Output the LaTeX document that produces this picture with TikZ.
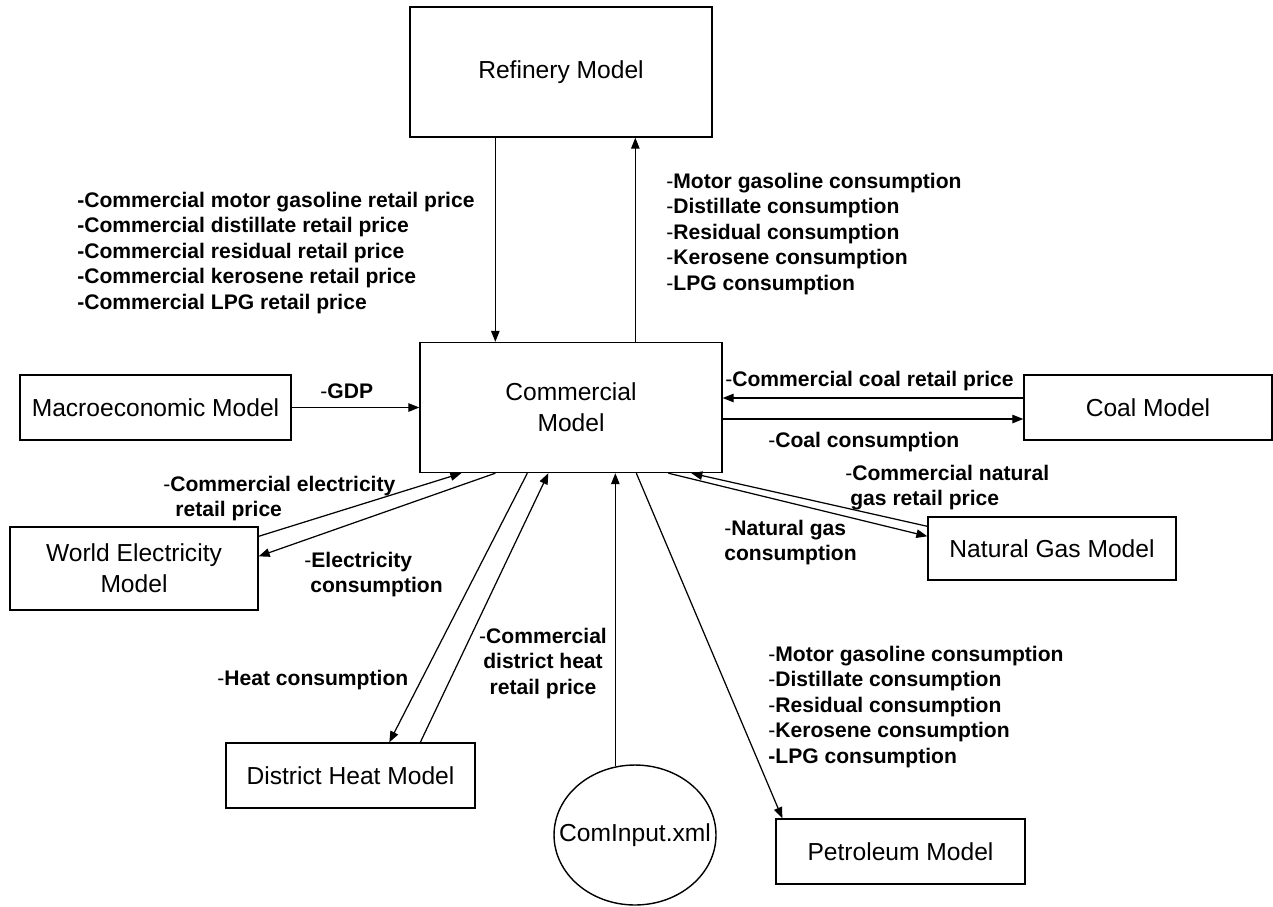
\documentclass[tikz,border=0pt]{standalone}
\usepackage{fontspec}
\setmainfont{Liberation Sans}
\usetikzlibrary{arrows.meta,calc,shapes.geometric}
\newcommand{\dsh}{\textmd{-}}
\tikzset{%
  model/.style={draw,line width=0.8pt,inner sep=0pt,align=center,font=\fontsize{14}{17.6}\selectfont},
  flow/.style={line width=0.7pt,-{Triangle[length=0.22cm,width=0.17cm]}},
  lbl/.style={inner sep=0pt,font=\fontsize{12}{14.5}\selectfont\bfseries}
}

\begin{document}
\begin{tikzpicture}[x=0.02cm,y=-0.02cm]
  \useasboundingbox (0,0) rectangle (1273,906);

  % models
  \node[model,minimum width=6.04cm,minimum height=2.6cm] (ref) at (561,72) {Refinery Model};
  \node[model,minimum width=6.04cm,minimum height=2.6cm] (com) at (571,407.5) {Commercial\\Model};
  \node[model,minimum width=5.42cm,minimum height=1.3cm] (macro) at (155.5,407.5) {Macroeconomic Model};
  \node[model,minimum width=4.96cm,minimum height=1.3cm] (coal) at (1148,407.5) {Coal Model};
  \node[model,minimum width=4.96cm,minimum height=1.26cm] (ng) at (1052,548.5) {Natural Gas Model};
  \node[model,minimum width=4.96cm,minimum height=1.66cm] (welec) at (134,568.5) {World Electricity\\Model};
  \node[model,minimum width=4.98cm,minimum height=1.3cm] (dheat) at (350.5,775.5) {District Heat Model};
  \node[model,minimum width=4.98cm,minimum height=1.3cm] (pet) at (900.5,851.5) {Petroleum Model};
  \node[model,ellipse,minimum width=3.24cm,minimum height=2.8cm] (cinput) at (635,835) {\makebox[0pt]{ComInput.xml}};

  % flows
  \draw[flow] ($(ref.south west)+(86,0)$) -- ($(com.north west)+(76,0)$);
  \draw[flow] ($(com.north west)+(216,0)$) -- ($(ref.south west)+(226,0)$);
  \draw[flow] (macro.east) -- (com.west);
  \draw[flow] ($(coal.west)+(0,-9.5)$) -- ($(com.east)+(0,-9.5)$);
  \draw[flow] ($(com.east)+(0,11.5)$) -- ($(coal.west)+(0,11.5)$);
  \draw[flow] ($(welec.north east)+(0,10)$) -- ($(com.south west)+(42,0)$);
  \draw[flow] ($(com.south west)+(76,0)$) -- ($(welec.north east)+(0,30)$);
  \draw[flow] ($(com.south west)+(108,0)$) -- ($(dheat.north west)+(164,0)$);
  \draw[flow] ($(dheat.north west)+(195,0)$) -- ($(com.south west)+(129,0)$);
  \draw[flow] (cinput.106) -- (cinput.106 |- com.south);
  \draw[flow] ($(com.south west)+(217,0)$) -- ($(pet.north west)+(7,0)$);
  \draw[flow] ($(com.south west)+(249,0)$) -- ($(ng.north west)+(0,20)$);
  \draw[flow] ($(ng.north west)+(0,10)$) -- ($(com.south west)+(272,0)$);

  % labels
  \node[lbl,align=left,anchor=north west] (refprice) at (77,191.5)
    {-Commercial motor gasoline retail price\\-Commercial distillate retail price\\-Commercial residual retail price\\-Commercial kerosene retail price\\-Commercial LPG retail price};
  \node[lbl,align=left,anchor=north west] (refcons) at (666,172.5)
    {\dsh Motor gasoline consumption\\\dsh Distillate consumption\\\dsh Residual consumption\\\dsh Kerosene consumption\\\dsh LPG consumption};
  \node[lbl,anchor=base west] (gdp) at (320,398.5) {\dsh GDP};
  \node[lbl,anchor=base west] (coalprice) at (725,386.5) {\dsh Commercial coal retail price};
  \node[lbl,anchor=base west] (coalcons) at (768,447.5) {\dsh Coal consumption};
  \node[lbl,align=left,anchor=north west] (elecprice) at (163,475.5)
    {\dsh Commercial electricity\\\hspace*{0.24cm}retail price};
  \node[lbl,align=left,anchor=north west] (eleccons) at (304,551.5)
    {\dsh Electricity\\\hspace*{0.12cm}consumption};
  \node[lbl,align=left,anchor=north west] (ngprice) at (845,464.5)
    {\dsh Commercial natural\\\hspace*{0.1cm}gas retail price};
  \node[lbl,align=left,anchor=north west] (ngcons) at (724,519.5)
    {\dsh Natural gas\\consumption};
  \node[lbl,anchor=base west] (heatcons) at (217,685.5) {\dsh Heat consumption};
  \node[lbl,align=center,anchor=north] (dhprice) at (543,627.5)
    {\dsh Commercial\\district heat\\retail price};
  \node[lbl,align=left,anchor=north west] (petcons) at (768,645.5)
    {\dsh Motor gasoline consumption\\\dsh Distillate consumption\\\dsh Residual consumption\\\dsh Kerosene consumption\\-LPG consumption};
\end{tikzpicture}
\end{document}
